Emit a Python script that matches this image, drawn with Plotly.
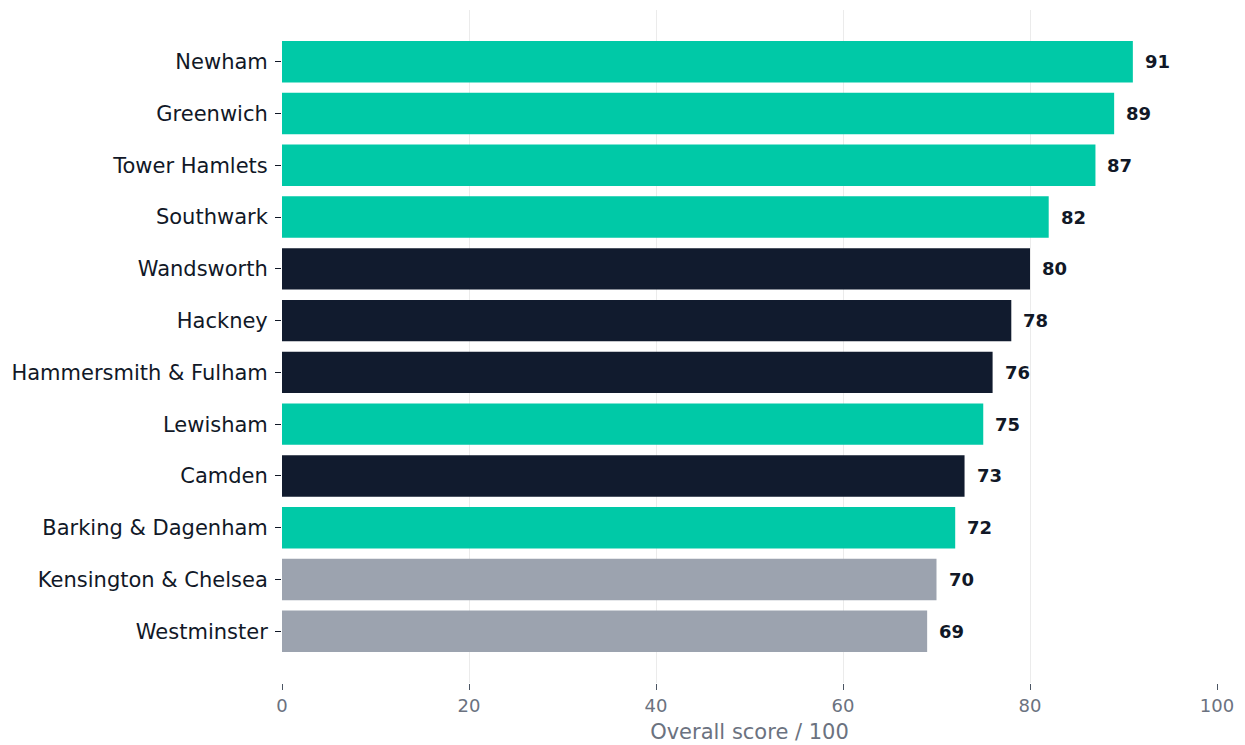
import plotly.graph_objects as go

boroughs = ["Newham", "Greenwich", "Tower Hamlets", "Southwark", "Wandsworth", "Hackney",
            "Hammersmith & Fulham", "Lewisham", "Camden", "Barking & Dagenham",
            "Kensington & Chelsea", "Westminster"]
scores = [91, 89, 87, 82, 80, 78, 76, 75, 73, 72, 70, 69]
groups = ["top", "top", "top", "top", "mid", "mid", "mid", "top", "mid", "top", "low", "low"]

palette = {"top": "#00C9A7", "mid": "#111B2E", "low": "#9CA3AF"}
colors = [palette[g] for g in groups]

fig = go.Figure()
fig.add_trace(go.Bar(
    x=scores, y=boroughs, orientation="h",
    marker=dict(color=colors, line=dict(width=0)),
    hoverinfo="x+y",
))

for b, s in zip(boroughs, scores):
    fig.add_annotation(x=s, y=b, text=f"<b>{s}</b>", showarrow=False,
                       xanchor="left", xshift=10,
                       font=dict(family="DejaVu Sans", size=18, color="#111827"))

fig.update_layout(
    width=1245, height=745,
    margin=dict(l=282, r=28, t=10, b=62),
    paper_bgcolor="white", plot_bgcolor="white",
    bargap=0.2,
    showlegend=False,
    font=dict(family="DejaVu Sans", color="#111827"),
    xaxis=dict(
        range=[0, 100], dtick=20, showgrid=True, gridcolor="#EBEBEB", gridwidth=1,
        zeroline=False, showline=False, automargin=False,
        ticks="outside", ticklen=6, tickcolor="#4B5563", tickwidth=1,
        tickfont=dict(size=18, color="#6B7280"),
        title=dict(text="Overall score / 100", font=dict(size=21, color="#6B7280"), standoff=9),
    ),
    yaxis=dict(
        categoryorder="array", categoryarray=boroughs,
        range=[12, -1], showgrid=False, zeroline=False, showline=False, automargin=False,
        ticks="outside", ticklen=6, tickcolor="#111827", tickwidth=1,
        ticklabelstandoff=3,
        tickfont=dict(size=21, color="#111827"),
    ),
)

fig.write_html("out.html")
